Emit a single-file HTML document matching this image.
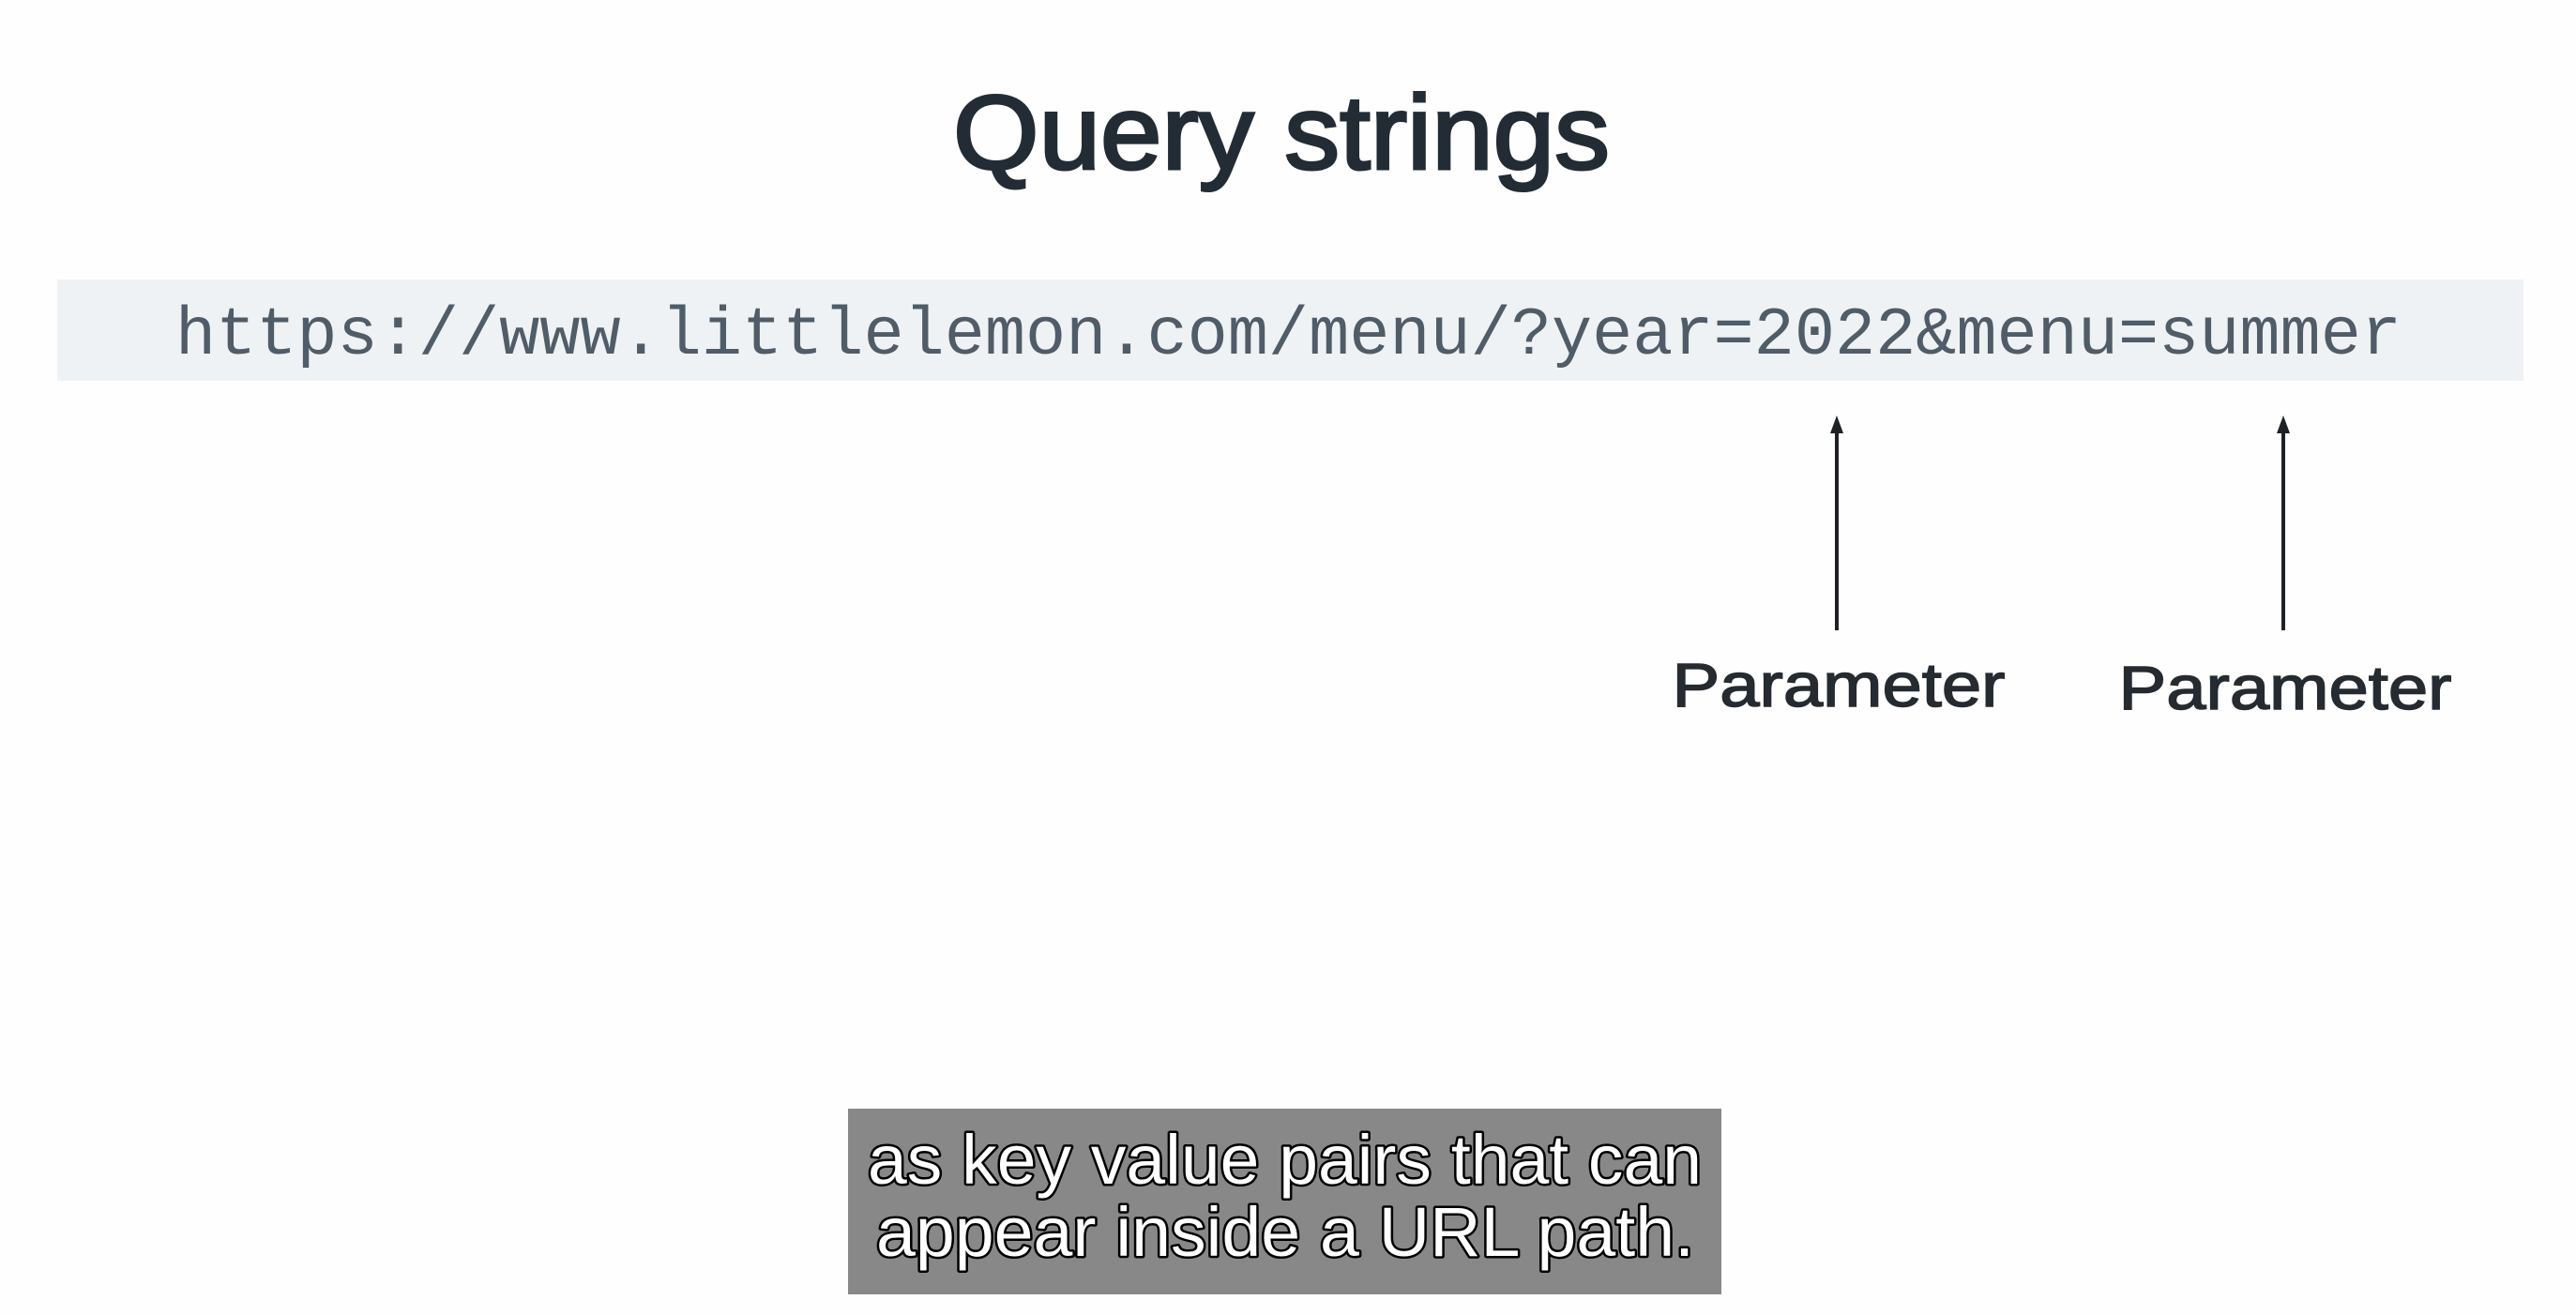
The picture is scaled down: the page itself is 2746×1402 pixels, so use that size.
<!DOCTYPE html>
<html><head><meta charset="utf-8"><style>
html,body{margin:0;padding:0;background:#fefefe;}
svg{display:block;}
</style></head><body>
<svg width="2746" height="1402" viewBox="0 0 2746 1402" xmlns="http://www.w3.org/2000/svg">
<rect width="2746" height="1402" fill="#fefefe"/>
<text x="1366" y="180" text-anchor="middle" font-family="Liberation Sans, DejaVu Sans, sans-serif" font-size="112" fill="#232c34" stroke="#232c34" stroke-width="3" textLength="700" lengthAdjust="spacingAndGlyphs">Query strings</text>
<rect x="61" y="298" width="2629" height="108" fill="#eef2f4"/>
<text x="187" y="377" font-family="Liberation Mono, monospace" font-size="72" fill="#505c67" textLength="2373" lengthAdjust="spacingAndGlyphs">https://www.littlelemon.com/menu/?year=2022&amp;menu=summer</text>
<g stroke="#1e2226" stroke-width="4">
<line x1="1958" y1="672" x2="1958" y2="455"/>
<line x1="2434" y1="672" x2="2434" y2="455"/>
</g>
<polygon points="1958,443 1951,462 1965,462" fill="#1e2226"/>
<polygon points="2434,443 2427,462 2441,462" fill="#1e2226"/>
<g font-family="Liberation Sans, DejaVu Sans, sans-serif" font-size="66" fill="#252b30" stroke="#252b30" stroke-width="1.5" text-anchor="middle">
<text x="1960" y="753" textLength="355" lengthAdjust="spacingAndGlyphs">Parameter</text>
<text x="2436" y="756" textLength="355" lengthAdjust="spacingAndGlyphs">Parameter</text>
</g>
<rect x="904" y="1182" width="931" height="198" fill="#888888"/>
<g font-family="Liberation Sans, Arial, sans-serif" font-size="74" fill="#ffffff" stroke="#000" stroke-width="5" paint-order="stroke" stroke-linejoin="round">
<text x="925" y="1262" textLength="889" lengthAdjust="spacingAndGlyphs">as key value pairs that can</text>
<text x="934" y="1339" textLength="872" lengthAdjust="spacingAndGlyphs">appear inside a URL path.</text>
</g>
</svg>
</body></html>
